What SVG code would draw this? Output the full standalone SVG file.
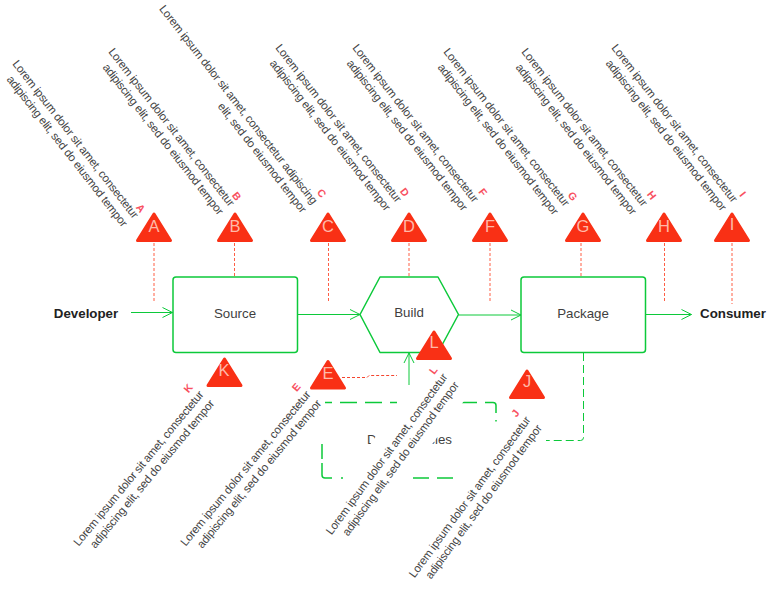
<svg xmlns="http://www.w3.org/2000/svg" width="775" height="596" viewBox="0 0 775 596">
<style>
text{font-family:"Liberation Sans",Arial,sans-serif}
.n{font-size:13.3px;fill:#3f3f3f;text-anchor:middle}
.b{font-size:13.3px;font-weight:bold;fill:#222;text-anchor:middle}
.sh{fill:#fff;stroke:#0cc93a;stroke-width:1.5;stroke-linejoin:round}
.c{fill:none;stroke:#0cc93a;stroke-width:1;marker-end:url(#h)}
.d{fill:none;stroke:#0cc93a;stroke-width:1.5}
.o{fill:none;stroke:#ff5f45;stroke-width:1;stroke-dasharray:3 2}
.t{fill:#f93015;stroke:#f93015;stroke-width:3;stroke-linejoin:round}
.l{font-size:16.5px;fill:#ffb9a8;text-anchor:middle}
.m{font-size:11.5px;letter-spacing:-.2px;fill:#444;text-anchor:end}
.r{font-size:10.5px;font-weight:bold;fill:#f8505f;text-anchor:middle}
</style>
<defs>
<marker id="h" markerUnits="userSpaceOnUse" markerWidth="12" markerHeight="12" refX="11" refY="6" orient="auto"><path d="M1,1 L11,6 L1,11" fill="none" stroke="#0cc93a" stroke-width="1"/></marker>
<path id="tri" d="M0,3 L16.5,29.5 H-16.5 Z"/>
</defs>
<g id="connectors">
<path class="c" d="M131,312.5 H172.5"/>
<path class="c" d="M297,314.5 H360"/>
<path class="c" d="M459,315 H521"/>
<path class="c" d="M646,314.5 H691.5"/>
<path class="c" d="M409,385 V353"/>
<path fill="none" stroke="#0cc93a" stroke-dasharray="8 4" d="M583.5,353 V437.5 Q583.5,440.5 580.5,440.5 H546"/>
<path class="o" d="M154,243 V302"/>
<path class="o" d="M234.5,243 V277"/>
<path class="o" d="M328.5,243 V302"/>
<path class="o" d="M409,243 V277"/>
<path class="o" d="M490,243 V302"/>
<path class="o" d="M581,243 V277"/>
<path class="o" d="M664.5,243 V302"/>
<path class="o" d="M732,243 V304"/>
<path fill="none" stroke="#f5452f" stroke-dasharray="3 2" d="M342,377.5 H367 L369,375.5 H397"/>
</g>
<g id="source"><rect class="sh" x="173" y="277" width="124.5" height="75.5" rx="3"/><text class="n" x="235" y="318">Source</text></g>
<g id="build"><path class="sh" d="M360,314.5 L380,277 H438 L458.5,314.5 L438,352.5 H380 Z"/><text class="n" x="409" y="317">Build</text></g>
<g id="package"><rect class="sh" x="521" y="277" width="124.5" height="75.5" rx="3"/><text class="n" x="583" y="318">Package</text></g>
<g id="developer"><text class="b" x="86" y="318">Developer</text></g>
<g id="consumer"><text class="b" x="733" y="318">Consumer</text></g>
<g id="dependencies">
<path class="d" d="M325,402.5 H332 M340,402.5 H357 M365,402.5 H382 M390,402.5 H397 M461,402.5 H477 M485,402.5 H493 Q496,402.5 496,405.5 V413 M496,420 V421.5 M322,444 V459 M322,463 V475 Q322,478 325,478 H332 M341,478 H343 M413,478 H429 M437,478 H453"/>
<text class="n" x="409.5" y="444">Dependencies</text>
</g>
<g id="A"><use href="#tri" class="t" x="154" y="211"/><text class="l" x="154" y="232">A</text></g>
<g id="B"><use href="#tri" class="t" x="235" y="211"/><text class="l" x="235" y="232">B</text></g>
<g id="C"><use href="#tri" class="t" x="328" y="211"/><text class="l" x="328" y="232">C</text></g>
<g id="D"><use href="#tri" class="t" x="409" y="211"/><text class="l" x="409" y="232">D</text></g>
<g id="F"><use href="#tri" class="t" x="490" y="211"/><text class="l" x="490" y="231.5">F</text></g>
<g id="G"><use href="#tri" class="t" x="583" y="211"/><text class="l" x="583" y="232">G</text></g>
<g id="H"><use href="#tri" class="t" x="664" y="211"/><text class="l" x="664" y="232">H</text></g>
<g id="I"><use href="#tri" class="t" x="732" y="211"/><text class="l" x="732" y="230">I</text></g>
<g id="K"><use href="#tri" class="t" x="224.5" y="356"/><text class="l" x="224" y="376">K</text></g>
<g id="E"><use href="#tri" class="t" x="328" y="358.5"/><text class="l" x="328" y="379">E</text></g>
<g id="J"><use href="#tri" class="t" x="527" y="368"/><text class="l" x="527" y="387">J</text></g>
<g id="note-A"><text class="r" transform="translate(141,208) rotate(52) translate(0,4)">A</text><text class="m" transform="translate(133,219) rotate(52)"><tspan x="0" y="0">Lorem ipsum dolor sit amet, consectetur</tspan><tspan x="0" y="14">adipiscing elit, sed do eiusmod tempor</tspan></text></g>
<g id="note-B"><text class="r" transform="translate(237,196) rotate(52) translate(0,4)">B</text><text class="m" transform="translate(229,207) rotate(52)"><tspan x="0" y="0">Lorem ipsum dolor sit amet, consectetur</tspan><tspan x="0" y="14">adipiscing elit, sed do eiusmod tempor</tspan></text></g>
<g id="note-C"><text class="r" transform="translate(322,193) rotate(52) translate(0,4)">C</text><text class="m" transform="translate(312,205) rotate(52)"><tspan x="0" y="0">Lorem ipsum dolor sit amet, consectetur adipiscing</tspan><tspan x="0" y="14">elit, sed do eiusmod tempor</tspan></text></g>
<g id="note-D"><text class="r" transform="translate(405,192) rotate(52) translate(0,4)">D</text><text class="m" transform="translate(396,203) rotate(52)"><tspan x="0" y="0">Lorem ipsum dolor sit amet, consectetur</tspan><tspan x="0" y="14">adipiscing elit, sed do eiusmod tempor</tspan></text></g>
<g id="note-F"><text class="r" transform="translate(483,192) rotate(52) translate(0,4)">F</text><text class="m" transform="translate(473,203) rotate(52)"><tspan x="0" y="0">Lorem ipsum dolor sit amet, consectetur</tspan><tspan x="0" y="14">adipiscing elit, sed do eiusmod tempor</tspan></text></g>
<g id="note-G"><text class="r" transform="translate(573,196) rotate(52) translate(0,4)">G</text><text class="m" transform="translate(564,207) rotate(52)"><tspan x="0" y="0">Lorem ipsum dolor sit amet, consectetur</tspan><tspan x="0" y="14">adipiscing elit, sed do eiusmod tempor</tspan></text></g>
<g id="note-H"><text class="r" transform="translate(652,195) rotate(52) translate(0,4)">H</text><text class="m" transform="translate(642,207) rotate(52)"><tspan x="0" y="0">Lorem ipsum dolor sit amet, consectetur</tspan><tspan x="0" y="14">adipiscing elit, sed do eiusmod tempor</tspan></text></g>
<g id="note-I"><text class="r" transform="translate(743,194) rotate(52) translate(0,4)">I</text><text class="m" transform="translate(732,203) rotate(52)"><tspan x="0" y="0">Lorem ipsum dolor sit amet, consectetur</tspan><tspan x="0" y="14">adipiscing elit, sed do eiusmod tempor</tspan></text></g>
<g id="note-K"><text class="r" transform="translate(188,388) rotate(-50) translate(0,4)">K</text><text class="m" transform="translate(204,395) rotate(-50.5)"><tspan x="0" y="0">Lorem ipsum dolor sit amet, consectetur</tspan><tspan x="0" y="14">adipiscing elit, sed do eiusmod tempor</tspan></text></g>
<g id="note-E"><text class="r" transform="translate(296,387) rotate(-50) translate(0,4)">E</text><text class="m" transform="translate(311,395) rotate(-50.5)"><tspan x="0" y="0">Lorem ipsum dolor sit amet, consectetur</tspan><tspan x="0" y="14">adipiscing elit, sed do eiusmod tempor</tspan></text></g>
<g id="note-L"><rect fill="#fff" x="-201" y="-25" width="201" height="50" transform="translate(452,375) rotate(-53.7)"/><use href="#tri" class="t" x="434" y="329"/><text class="l" x="434" y="348">L</text><text class="r" transform="translate(433,370) rotate(-53) translate(0,4)">L</text><text class="m" transform="translate(448,377) rotate(-53.7)"><tspan x="0" y="0">Lorem ipsum dolor sit amet, consectetur</tspan><tspan x="0" y="14">adipiscing elit, sed do eiusmod tempor</tspan></text></g>
<g id="note-J"><text class="r" transform="translate(515,413) rotate(-53) translate(0,4)">J</text><text class="m" transform="translate(531,420) rotate(-53.7)"><tspan x="0" y="0">Lorem ipsum dolor sit amet, consectetur</tspan><tspan x="0" y="14">adipiscing elit, sed do eiusmod tempor</tspan></text></g>
</svg>
